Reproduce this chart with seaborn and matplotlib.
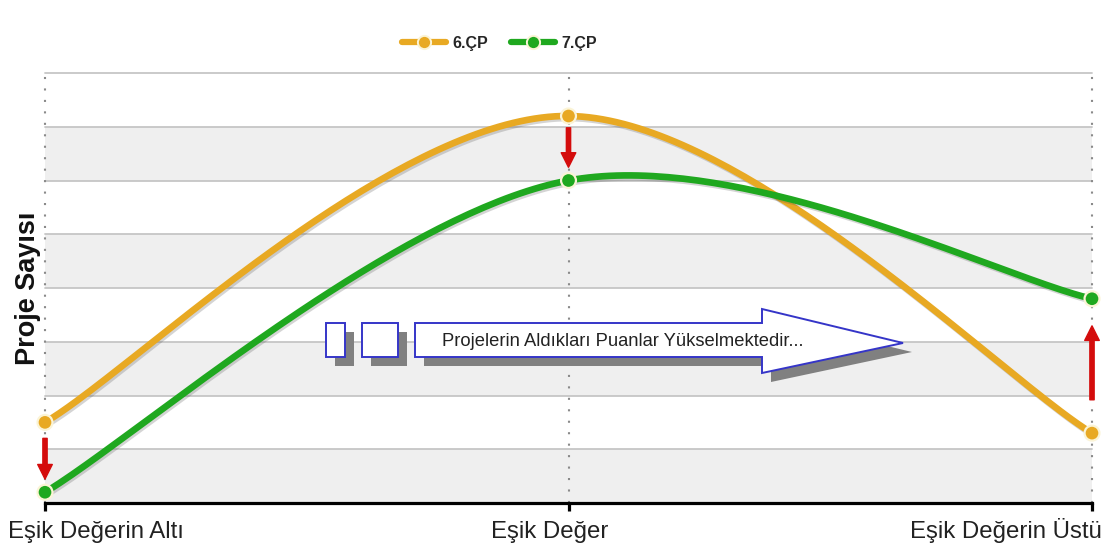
import numpy as np
import pandas as pd
import matplotlib
matplotlib.use("Agg")
import matplotlib.pyplot as plt
import matplotlib.patheffects as pe
from matplotlib.patches import Polygon, Rectangle
from matplotlib.lines import Line2D
import seaborn as sns

# ---- data ----
categories = ["Eşik Değerin Altı", "Eşik Değer", "Eşik Değerin Üstü"]
series_names = ["6.ÇP", "7.ÇP"]
values_6cp = [1.5, 7.2, 1.3]
values_7cp = [0.2, 6.0, 3.8]
y_label = "Proje Sayısı"
banner_text = "Projelerin Aldıkları Puanlar Yükselmektedir..."

sns.set_theme(style="white")
plt.rcParams["font.family"] = ["Liberation Sans", "DejaVu Sans"]

palette = {"6.ÇP": "#E8A923", "7.ÇP": "#1FA81F"}
series_values = {"6.ÇP": values_6cp, "7.ÇP": values_7cp}


def smooth_curve(values, n=80):
    """Cubic Bezier smoothing through the points (spreadsheet style smoothed line)."""
    x = np.arange(len(values), dtype=float)
    pts = np.column_stack([x, np.asarray(values, dtype=float)])
    segs = []
    for i in range(len(pts) - 1):
        p0 = pts[max(i - 1, 0)]
        p1 = pts[i]
        p2 = pts[i + 1]
        p3 = pts[min(i + 2, len(pts) - 1)]
        c1 = p1 + (p2 - p0) / 6.0
        c2 = p2 - (p3 - p1) / 6.0
        t = np.linspace(0, 1, n)[:, None]
        seg = ((1 - t) ** 3) * p1 + 3 * ((1 - t) ** 2) * t * c1 \
            + 3 * (1 - t) * t ** 2 * c2 + t ** 3 * p2
        segs.append(seg if i == 0 else seg[1:])
    return np.vstack(segs)


curve_frames = []
point_frames = []
for name in series_names:
    c = smooth_curve(series_values[name])
    curve_frames.append(pd.DataFrame({"x": c[:, 0], "y": c[:, 1], "series": name}))
    point_frames.append(pd.DataFrame({"x": np.arange(len(categories)),
                                      "y": series_values[name], "series": name}))
curves = pd.concat(curve_frames, ignore_index=True)
points = pd.concat(point_frames, ignore_index=True)

W, H = 1110, 547
fig = plt.figure(figsize=(W / 100, H / 100), dpi=100)
fig.patch.set_facecolor("white")
ax = fig.add_axes([45 / W, 1 - 503 / H, 1047 / W, 430 / H])
ax.set_facecolor("white")
ax.set_xlim(0, 2)
ax.set_ylim(0, 8)

# alternating bands and horizontal gridlines
for lo in range(0, 8, 2):
    ax.axhspan(lo, lo + 1, color="#efefef", zorder=0, lw=0)
for yv in range(1, 9):
    ax.axhline(yv, color="#c6c6c6", lw=1.3, zorder=1, clip_on=False)

# dotted category guides
for xv in range(len(categories)):
    ax.axvline(xv, color="#8a8a8a", lw=1.5, linestyle=(0, (1, 4.5)),
               zorder=1.5, clip_on=False)

# smoothed series lines
sns.lineplot(data=curves, x="x", y="y", hue="series", hue_order=series_names,
             palette=palette, estimator=None, sort=False, lw=4.8,
             legend=False, ax=ax, zorder=3)
for ln in ax.get_lines()[-len(series_names):]:
    ln.set_solid_capstyle("round")
    ln.set_path_effects([pe.SimpleLineShadow(offset=(1.2, -1.5), shadow_color="#555555", alpha=0.25),
                         pe.Normal()])
    ln.set_clip_on(False)

sns.scatterplot(data=points, x="x", y="y", hue="series", hue_order=series_names,
                palette=palette, s=115, edgecolor="#fbf4d6", linewidth=1.6,
                legend=False, ax=ax, zorder=5, clip_on=False)

# red change arrows from 6.ÇP to 7.ÇP
shrinks = [(11.5, 9.5), (8.5, 9.5), (24, 19.5)]
for i in range(len(categories)):
    sa, sb = shrinks[i]
    ax.annotate("", xy=(i, values_7cp[i]), xytext=(i, values_6cp[i]),
                arrowprops=dict(arrowstyle="simple,head_length=0.75,head_width=0.75,tail_width=0.22",
                                color="#D40C0C", shrinkA=sa, shrinkB=sb,
                                mutation_scale=14),
                zorder=6, annotation_clip=False)

# banner arrow with drop shadow
def ax_pt(px, py):
    return ((px - 45) / 1047, (503 - py) / 430)

sdx, sdy = 9 / 1047, -9 / 430
rects = [(326, 323, 345, 357), (362, 323, 398, 357)]
arrow_px = [(415, 323), (762, 323), (762, 309), (903, 343),
            (762, 373), (762, 357), (415, 357)]
arrow_pts = [ax_pt(*p) for p in arrow_px]

for (x0, y0, x1, y1) in rects:
    a0 = ax_pt(x0, y1)
    a1 = ax_pt(x1, y0)
    ax.add_patch(Rectangle((a0[0] + sdx, a0[1] + sdy), a1[0] - a0[0], a1[1] - a0[1],
                           transform=ax.transAxes, facecolor="#808080",
                           edgecolor="none", zorder=7, clip_on=False))
    ax.add_patch(Rectangle(a0, a1[0] - a0[0], a1[1] - a0[1], transform=ax.transAxes,
                           facecolor="white", edgecolor="#3535C8", lw=1.4,
                           zorder=8, clip_on=False))
ax.add_patch(Polygon([(px + sdx, py + sdy) for px, py in arrow_pts], closed=True,
                     transform=ax.transAxes, facecolor="#808080", edgecolor="none",
                     zorder=7, clip_on=False))
ax.add_patch(Polygon(arrow_pts, closed=True, transform=ax.transAxes,
                     facecolor="white", edgecolor="#3535C8", lw=1.4,
                     zorder=8, clip_on=False))
tx, ty = ax_pt(623, 342)
ax.text(tx, ty, banner_text, transform=ax.transAxes, ha="center", va="center",
        fontsize=13.2, color="#222222", zorder=9)

# axes styling
ax.set_xticks(range(len(categories)))
ax.set_xticklabels([])
ax.set_yticks([])
ax.set_xlabel("")
ax.set_ylabel(y_label, fontsize=19.5, fontweight="bold", color="#111111", labelpad=3)
for side in ["top", "left", "right"]:
    ax.spines[side].set_visible(False)
ax.spines["bottom"].set_color("black")
ax.spines["bottom"].set_linewidth(2.3)
ax.spines["bottom"].set_zorder(4)
ax.tick_params(axis="x", direction="out", length=6, width=2.3, color="black", bottom=True)

label_layout = [(-27, "left"), (-13.7, "center"), (7.2, "right")]
for i, cat in enumerate(categories):
    dx, ha = label_layout[i]
    ax.annotate(cat, xy=(i, 0), xycoords=("data", "axes fraction"),
                xytext=(dx, -25), textcoords="offset points", ha=ha, va="baseline",
                fontsize=17.3, color="#222222", annotation_clip=False)

# legend
handles = [Line2D([0], [0], color=palette[n], lw=4.5, marker="o", markersize=9.5,
                  markeredgecolor="#fbf4d6", markeredgewidth=1.4) for n in series_names]
fig.legend(handles, series_names, loc="center", bbox_to_anchor=(0.45, 0.921), ncol=2,
           frameon=False, prop={"weight": "bold", "size": 11.5}, handlelength=2.8,
           columnspacing=1.4, handletextpad=0.4)

fig.savefig("out.png", dpi=100, facecolor="white")
